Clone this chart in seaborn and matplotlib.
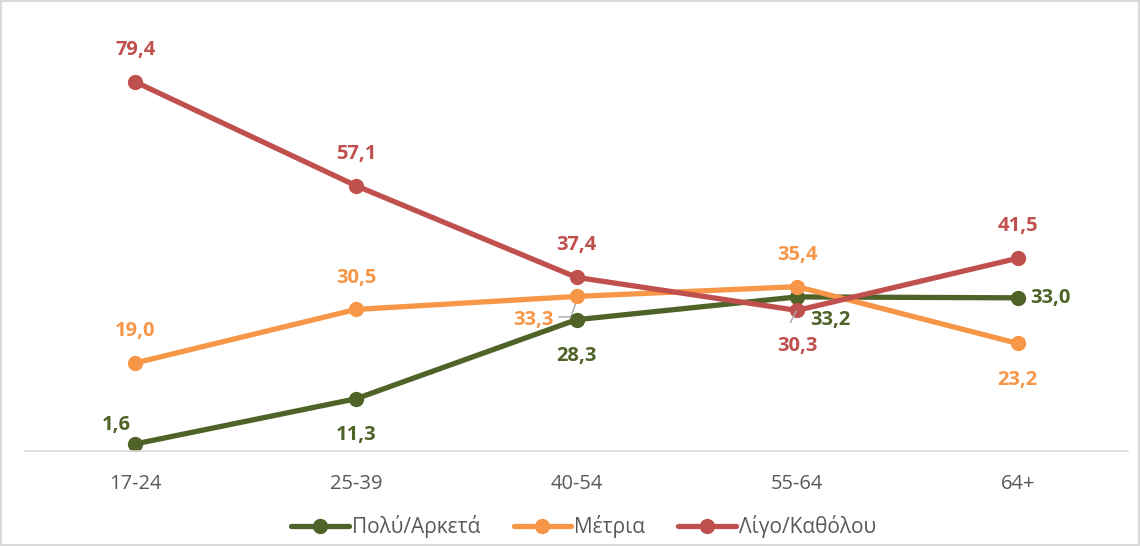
import matplotlib
matplotlib.use("Agg")
import matplotlib.pyplot as plt
import seaborn as sns
import pandas as pd

categories = ["17-24", "25-39", "40-54", "55-64", "64+"]
series_names = ["Πολύ/Αρκετά", "Μέτρια", "Λίγο/Καθόλου"]
polu = [1.6, 11.3, 28.3, 33.2, 33.0]
metria = [19.0, 30.5, 33.3, 35.4, 23.2]
ligo = [79.4, 57.1, 37.4, 30.3, 41.5]
colors = ["#4F6228", "#F79646", "#C0504D"]

sns.set_theme(style="white")
plt.rcParams['font.family'] = ['Open Sans', 'DejaVu Sans']

rows = []
for name, vals in zip(series_names, [polu, metria, ligo]):
    for i, (c, v) in enumerate(zip(categories, vals)):
        rows.append({"cat": c, "x": i, "val": v, "series": name})
df = pd.DataFrame(rows)

fig = plt.figure(figsize=(11.4, 5.46), dpi=100)
fig.patch.set_edgecolor("#D9D9D9")
fig.patch.set_linewidth(1.5)
ax = fig.add_axes([25/1140, 0.1733, 1103/1140, 0.9403 - 0.1733])

sns.lineplot(data=df, x="x", y="val", hue="series", hue_order=series_names,
             palette=colors, marker="o", markersize=11, markeredgewidth=0,
             linewidth=3.8, ax=ax, legend=True, sort=False)

ax.set_xlim(-0.5, 4.5)
ax.set_ylim(0, 90)
ax.set_xticks(range(len(categories)))
ax.set_xticklabels(categories, color="#595959", fontsize=14.5)
ax.set_yticks([])
ax.set_xlabel("")
ax.set_ylabel("")
for s in ["top", "left", "right"]:
    ax.spines[s].set_visible(False)
ax.spines["bottom"].set_color("#D9D9D9")
ax.spines["bottom"].set_linewidth(1.2)
ax.tick_params(axis="x", length=0, pad=16)

def fmt(v):
    return f"{v:.1f}".replace(".", ",")

pos = {
    0: ["ul", "b", "b", "r", "r"],
    1: ["t", "t", "l", "t", "b"],
    2: ["t", "t", "t", "b", "t"],
}
off = {"t": (0, 23, "center"), "b": (0, -26, "center"), "r": (9, 0, "left"),
       "l": (-10, 0, "right"), "ul": (-14, 13.5, "center")}
lab_fs = 14.5
for si, vals in enumerate([polu, metria, ligo]):
    for i, v in enumerate(vals):
        p = pos[si][i]
        dx, dy, ha = off[p]
        if si == 0 and i == 3:
            # 33,2 with short straight leader line
            ax.annotate(fmt(v), (i, v), xytext=(i + 0.15, v - 5.0), textcoords="data",
                        ha="center", va="center", fontsize=lab_fs, fontweight="bold",
                        color=colors[si])
            ax.annotate("", xy=(i - 0.003, v - 3.0), xytext=(i - 0.03, v - 5.5),
                        textcoords="data",
                        arrowprops=dict(arrowstyle="-", color="#A6A6A6", lw=1,
                                        shrinkA=0, shrinkB=0))
            continue
        if si == 1 and i == 2:
            # 33,3 with bent leader line
            ax.annotate(fmt(v), (i, v), xytext=(i - 0.195, v - 5.0), textcoords="data",
                        ha="center", va="center", fontsize=lab_fs, fontweight="bold",
                        color=colors[si])
            ax.plot([i - 0.08, i - 0.025, i], [v - 4.4, v - 4.4, v - 1.0],
                    color="#A6A6A6", lw=1, zorder=1)
            continue
        ax.annotate(fmt(v), (i, v), xytext=(dx, dy), textcoords="offset points",
                    ha=ha, va="center", fontsize=lab_fs, fontweight="bold",
                    color=colors[si])

handles, labels = ax.get_legend_handles_labels()
leg = ax.legend(handles, labels, loc="center", bbox_to_anchor=(0.512, (546 - 527) / 546),
                bbox_transform=fig.transFigure,
                ncol=3, frameon=False, fontsize=15, handlelength=2.75, columnspacing=1.6,
                handletextpad=0.15, labelcolor="#595959")

fig.savefig("out.png", dpi=100)
